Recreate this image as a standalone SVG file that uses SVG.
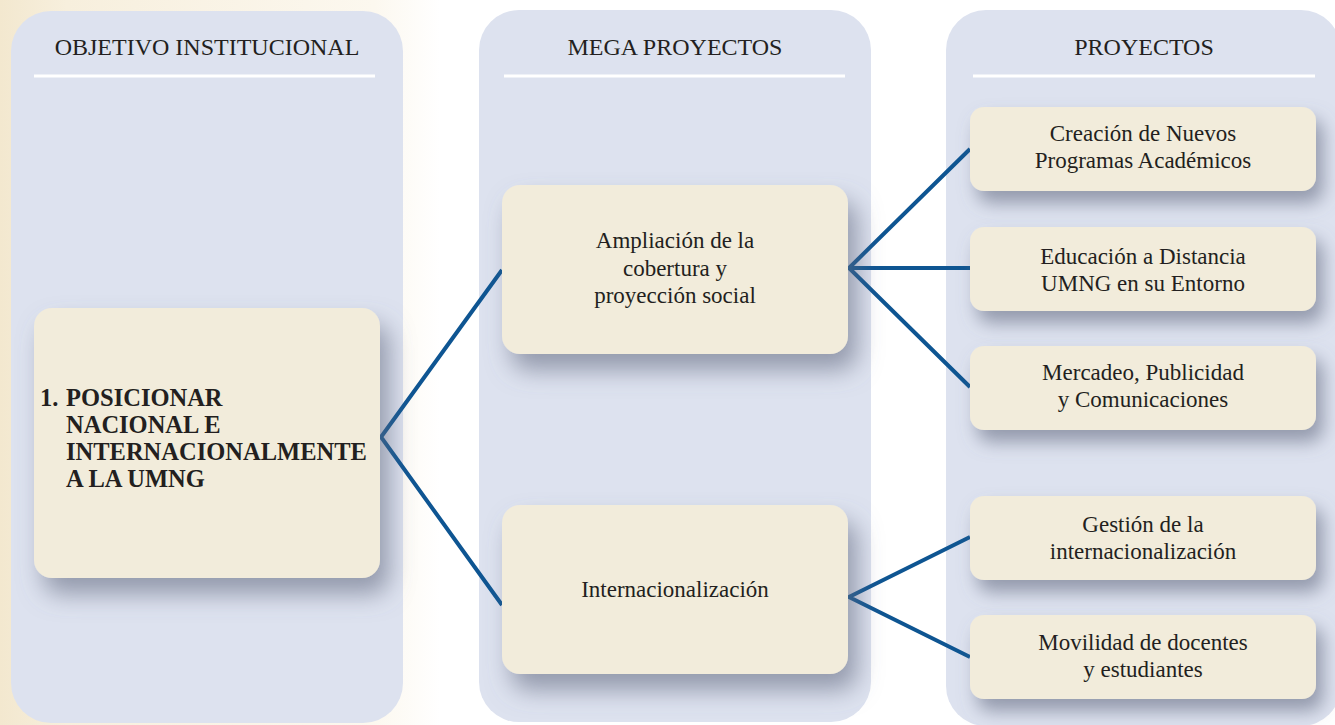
<svg xmlns="http://www.w3.org/2000/svg" width="1335" height="725" viewBox="0 0 1335 725">
  <defs>
    <linearGradient id="bgL" x1="0" y1="0" x2="1" y2="0">
      <stop offset="0" stop-color="#f3e8cf"/>
      <stop offset="0.05" stop-color="#f7efdd"/>
      <stop offset="0.28" stop-color="#fcf8ef"/>
      <stop offset="0.33" stop-color="#ffffff"/>
    </linearGradient>
    <filter id="sh" x="-20%" y="-20%" width="150%" height="160%">
      <feDropShadow dx="7" dy="12" stdDeviation="9" flood-color="#646a80" flood-opacity="0.6"/>
    </filter>
    <filter id="shL" x="-20%" y="-20%" width="150%" height="160%">
      <feDropShadow dx="9" dy="16" stdDeviation="12" flood-color="#646a80" flood-opacity="0.6"/>
    </filter>
    <style>
      .col { fill: #dde2ef; }
      .rule { stroke: #ffffff; stroke-width: 3; }
      .node { fill: #f2ecdb; filter: url(#sh); }
      .big { filter: url(#shL); }
      .hdr { font-family: "Liberation Serif", "DejaVu Serif", serif; font-size: 24px; fill: #231f20; text-anchor: middle; }
      .txt { font-family: "Liberation Serif", "DejaVu Serif", serif; font-size: 23px; fill: #231f20; text-anchor: middle; }
      .bold { font-family: "Liberation Serif", "DejaVu Serif", serif; font-size: 24.5px; font-weight: bold; fill: #231f20; }
      .conn { stroke: #0e5592; stroke-width: 4; fill: none; stroke-linejoin: miter; stroke-linecap: butt; }
    </style>
  </defs>

  <rect x="0" y="0" width="1335" height="725" fill="#ffffff"/>
  <rect x="0" y="0" width="1335" height="725" fill="url(#bgL)"/>

  <g id="columns">
    <rect class="col" x="11" y="11" width="392" height="712" rx="40"/>
    <rect class="col" x="479" y="10" width="392" height="712" rx="40"/>
    <rect class="col" x="946" y="10" width="395" height="716" rx="40"/>
    <line class="rule" x1="34" y1="76" x2="375" y2="76"/>
    <line class="rule" x1="504" y1="76" x2="845" y2="76"/>
    <line class="rule" x1="973" y1="76" x2="1315" y2="76"/>
    <text class="hdr" x="207" y="55">OBJETIVO INSTITUCIONAL</text>
    <text class="hdr" x="675" y="55">MEGA PROYECTOS</text>
    <text class="hdr" x="1144" y="55">PROYECTOS</text>
  </g>

  <g id="connectors">
    <polyline class="conn" points="502,270 381,437 502,605"/>
    <polyline class="conn" points="970,149 849,268 970,387"/>
    <line class="conn" x1="849" y1="268" x2="970" y2="268"/>
    <polyline class="conn" points="970,537 849,597 970,657"/>
  </g>

  <g id="node-objetivo">
    <rect class="node big" x="34" y="308" width="346" height="270" rx="18"/>
    <text class="bold" x="40" y="406">1.</text>
    <text class="bold" x="66" y="406">POSICIONAR</text>
    <text class="bold" x="66" y="433">NACIONAL E</text>
    <text class="bold" x="66" y="460">INTERNACIONALMENTE</text>
    <text class="bold" x="66" y="487">A LA UMNG</text>
  </g>

  <g id="node-ampliacion">
    <rect class="node big" x="502" y="185" width="346" height="169" rx="18"/>
    <text class="txt" x="675" y="248">Ampliación de la</text>
    <text class="txt" x="675" y="276">cobertura y</text>
    <text class="txt" x="675" y="303">proyección social</text>
  </g>

  <g id="node-internacionalizacion">
    <rect class="node big" x="502" y="505" width="346" height="169" rx="18"/>
    <text class="txt" x="675" y="597">Internacionalización</text>
  </g>

  <g id="node-creacion">
    <rect class="node" x="970" y="107" width="346" height="84" rx="14"/>
    <text class="txt" x="1143" y="141">Creación de Nuevos</text>
    <text class="txt" x="1143" y="168">Programas Académicos</text>
  </g>

  <g id="node-educacion">
    <rect class="node" x="970" y="227" width="346" height="84" rx="14"/>
    <text class="txt" x="1143" y="264">Educación a Distancia</text>
    <text class="txt" x="1143" y="291">UMNG en su Entorno</text>
  </g>

  <g id="node-mercadeo">
    <rect class="node" x="970" y="346" width="346" height="84" rx="14"/>
    <text class="txt" x="1143" y="380">Mercadeo, Publicidad</text>
    <text class="txt" x="1143" y="407">y Comunicaciones</text>
  </g>

  <g id="node-gestion">
    <rect class="node" x="970" y="496" width="346" height="84" rx="14"/>
    <text class="txt" x="1143" y="532">Gestión de la</text>
    <text class="txt" x="1143" y="559">internacionalización</text>
  </g>

  <g id="node-movilidad">
    <rect class="node" x="970" y="615" width="346" height="84" rx="14"/>
    <text class="txt" x="1143" y="650">Movilidad de docentes</text>
    <text class="txt" x="1143" y="677">y estudiantes</text>
  </g>
</svg>
